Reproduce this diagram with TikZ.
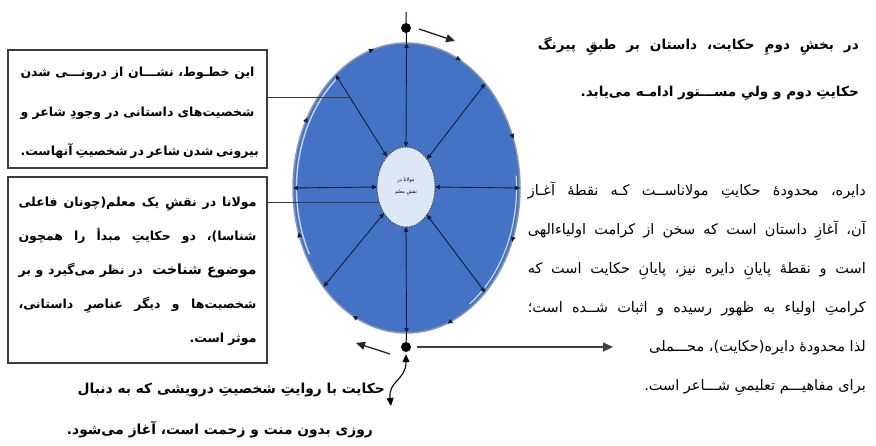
\documentclass[tikz,border=0pt]{standalone}
\usepackage{fontspec}
\usetikzlibrary{shapes.geometric,arrows.meta,decorations.markings}
\TeXXeTstate=1
\newfontfamily\fa[Script=Arabic]{DejaVu Sans}
\definecolor{ellfill}{RGB}{68,114,196}
\definecolor{ellborder}{RGB}{135,150,178}
\definecolor{hilite}{RGB}{196,214,242}
\definecolor{innerfill}{RGB}{222,232,245}
\definecolor{spokecol}{RGB}{18,28,58}
\definecolor{boxline}{RGB}{60,60,60}
\tikzset{
  outerell/.style={ellipse, minimum width=227pt, minimum height=290pt, inner sep=0pt, outer sep=0pt, fill=ellfill, draw=ellborder, line width=1.5pt},
  innerell/.style={ellipse, minimum width=58pt, minimum height=80pt, inner sep=0pt, outer sep=0pt, fill=innerfill, draw=gray!60!black, dash pattern=on 1.6pt off 1pt, line width=0.9pt, align=center},
  spoke/.style={{Triangle[length=5pt,width=4.5pt]}-{Triangle[length=5pt,width=4.5pt]}, draw=spokecol, line width=0.9pt},
  dotnode/.style={circle, fill=black, minimum size=10pt, inner sep=0pt},
  bigarrow/.style={-{Triangle[length=9pt,width=8pt]}, line width=1.3pt, draw=black!85},
  tbox/.style={draw=boxline, line width=1.1pt, inner sep=0pt, fill=white},
  conn/.style={draw=boxline, line width=1pt},
  plain/.style={inner sep=0pt},
  permark/.style={decorate, decoration={markings,
    mark=at position 0.067 with {\arrow[spokecol]{Triangle[reversed,length=5pt,width=4.5pt]}},
    mark=at position 0.185 with {\arrow[spokecol]{Triangle[reversed,length=5pt,width=4.5pt]}},
    mark=at position 0.297 with {\arrow[spokecol]{Triangle[reversed,length=5pt,width=4.5pt]}},
    mark=at position 0.417 with {\arrow[spokecol]{Triangle[reversed,length=5pt,width=4.5pt]}},
    mark=at position 0.561 with {\arrow[spokecol]{Triangle[reversed,length=5pt,width=4.5pt]}},
    mark=at position 0.686 with {\arrow[spokecol]{Triangle[reversed,length=5pt,width=4.5pt]}},
    mark=at position 0.808 with {\arrow[spokecol]{Triangle[reversed,length=5pt,width=4.5pt]}},
    mark=at position 0.939 with {\arrow[spokecol]{Triangle[reversed,length=5pt,width=4.5pt]}}}},
}
\begin{document}
\begin{tikzpicture}[x=1pt,y=1pt]
\useasboundingbox (0,0) rectangle (876,-446);
\fill[white] (0,0) rectangle (876,-446);
% main circle
\node[outerell] (out) at (406.5,-188) {};
\draw[hilite, line width=1.4pt] (406.5,-188) ++(128:110pt and 141.5pt) arc[start angle=128, end angle=208, x radius=110pt, y radius=141.5pt];
\draw[hilite, line width=1.2pt] (406.5,-188) ++(-55:110pt and 141.5pt) arc[start angle=-55, end angle=5, x radius=110pt, y radius=141.5pt];
\path[permark] (406.5,-188) ellipse [x radius=113.5pt, y radius=145pt];
\node[innerell] (in) at (406,-187) {\fa\fontsize{5}{9.5}\selectfont\beginR مولانا در\endR\\\fa\fontsize{5}{9.5}\selectfont\beginR نقشِ معلم\endR};
\foreach \a in {90,122,180,230,270,307,0,53} {\draw[spoke] (in.\a) -- (out.\a);}
% top marker
\coordinate (tt) at (406,-12);
\draw[line width=1pt] (tt) -- (out.north);
\node[dotnode] (td) at (406,-28) {};
\coordinate (ta1) at (419,-29);
\coordinate (ta2) at (455,-41);
\draw[bigarrow] (ta1) -- (ta2);
% bottom marker
\node[dotnode] (bd) at (406,-347) {};
\draw[line width=1pt] (out.south) -- (bd);
\coordinate (ba1) at (390,-354);
\coordinate (ba2) at (356,-343);
\draw[bigarrow] (ba1) -- (ba2);
\coordinate (ra) at (613,-347);
\draw[line width=1.1pt, draw=black!75, -{Triangle[length=10pt,width=9pt]}] ([xshift=6pt]bd.east) -- (ra);
\coordinate (w2) at (391,-406);
\draw[line width=1.1pt, {Triangle[length=8pt,width=7pt]}-{Triangle[length=8pt,width=7pt]}] ([yshift=-2pt]bd.south) .. controls (406,-380) and (388,-381) .. (w2);
% left boxes
\node[tbox, minimum width=259pt, minimum height=118pt] (b1) at (137.5,-109) {};
\node[plain] (b1t) at ([yshift=-4pt]b1.center) {\parbox{234pt}{\fa\bfseries\fontsize{12.5}{39.5}\selectfont
\hbox to 234pt{\beginR این خطـوط، نشـــان از درونـــی شدن\endR}
\hbox to 234pt{\beginR شخصیت‌های داستانی در وجودِ شاعر و\endR}
\hbox to 234pt{\beginR بیرونی شدن شاعر در شخصیتِ آنهاست.\endR}}};
\node[tbox, minimum width=259pt, minimum height=186pt] (b2) at (137.5,-270) {};
\node[plain] (b2t) at ([yshift=-1pt]b2.center) {\parbox{238pt}{\fa\bfseries\fontsize{12.5}{34}\selectfont
\hbox to 238pt{\beginR مولانا در نقشِ یک معلم(چونان فاعلی\endR}
\hbox to 238pt{\beginR شناسا)، دو حکایتِ مبدأ را همچون\endR}
\hbox to 238pt{\beginR {\fontsize{14}{34}\selectfont موضوع شناخت}\ \ در نظر می‌گیرد و بر\endR}
\hbox to 238pt{\beginR شخصیت‌ها و دیگر عناصرِ داستانی،\endR}
\hbox to 238pt{\hfill\beginR موثر است.\endR}}};
\coordinate (j1) at (350,-98);
\draw[conn] (b1.east |- j1) -- (j1);
\draw[conn] (b2.east |- in.211) -- (in.211);
% top right text
\node[plain, anchor=east] (t1) at (859,-69) {\parbox{321pt}{\fa\bfseries\fontsize{13.6}{47}\selectfont
\hbox to 321pt{\beginR در بخشِ دومِ حکایت، داستان بر طبقِ پیرنگ\endR}
\hbox to 321pt{\hfill\beginR حکایتِ دوم و ولیِ مســـتور ادامـه می‌یابد.\endR}}};
% right text
\node[plain, anchor=east] (t2) at (866,-289) {\parbox{338pt}{\fa\fontsize{14.5}{39}\selectfont
\hbox to 338pt{\beginR دایره، محدودهٔ حکایتِ مولاناســت کـه نقطهٔ آغـاز\endR}
\hbox to 338pt{\beginR آن، آغازِ داستان است که سخن از کرامت اولیاءالهی\endR}
\hbox to 338pt{\beginR است و نقطهٔ پایانِ دایره نیز، پایانِ حکایت است که\endR}
\hbox to 338pt{\beginR کرامتِ اولیاء به ظهور رسیده و اثبات شــده است؛\endR}
\hbox to 338pt{\hfill\beginR لذا محدودهٔ دایره(حکایت)، محـــملی\endR}
\hbox to 338pt{\hfill\beginR برای مفاهیـــم تعلیمیِ شـــاعر است.\endR}}};
% bottom text
\node[plain, anchor=east] (t3) at (385,-410) {\parbox{320pt}{\fa\bfseries\fontsize{13.8}{41}\selectfont
\hbox to 320pt{\hfill\beginR حکایت با روایتِ شخصیتِ درویشی که به دنبال\endR}
\hbox to 320pt{\hfill\beginR روزی بدون منت و زحمت است، آغاز می‌شود.\endR\kern12pt}}};
\end{tikzpicture}
\end{document}
